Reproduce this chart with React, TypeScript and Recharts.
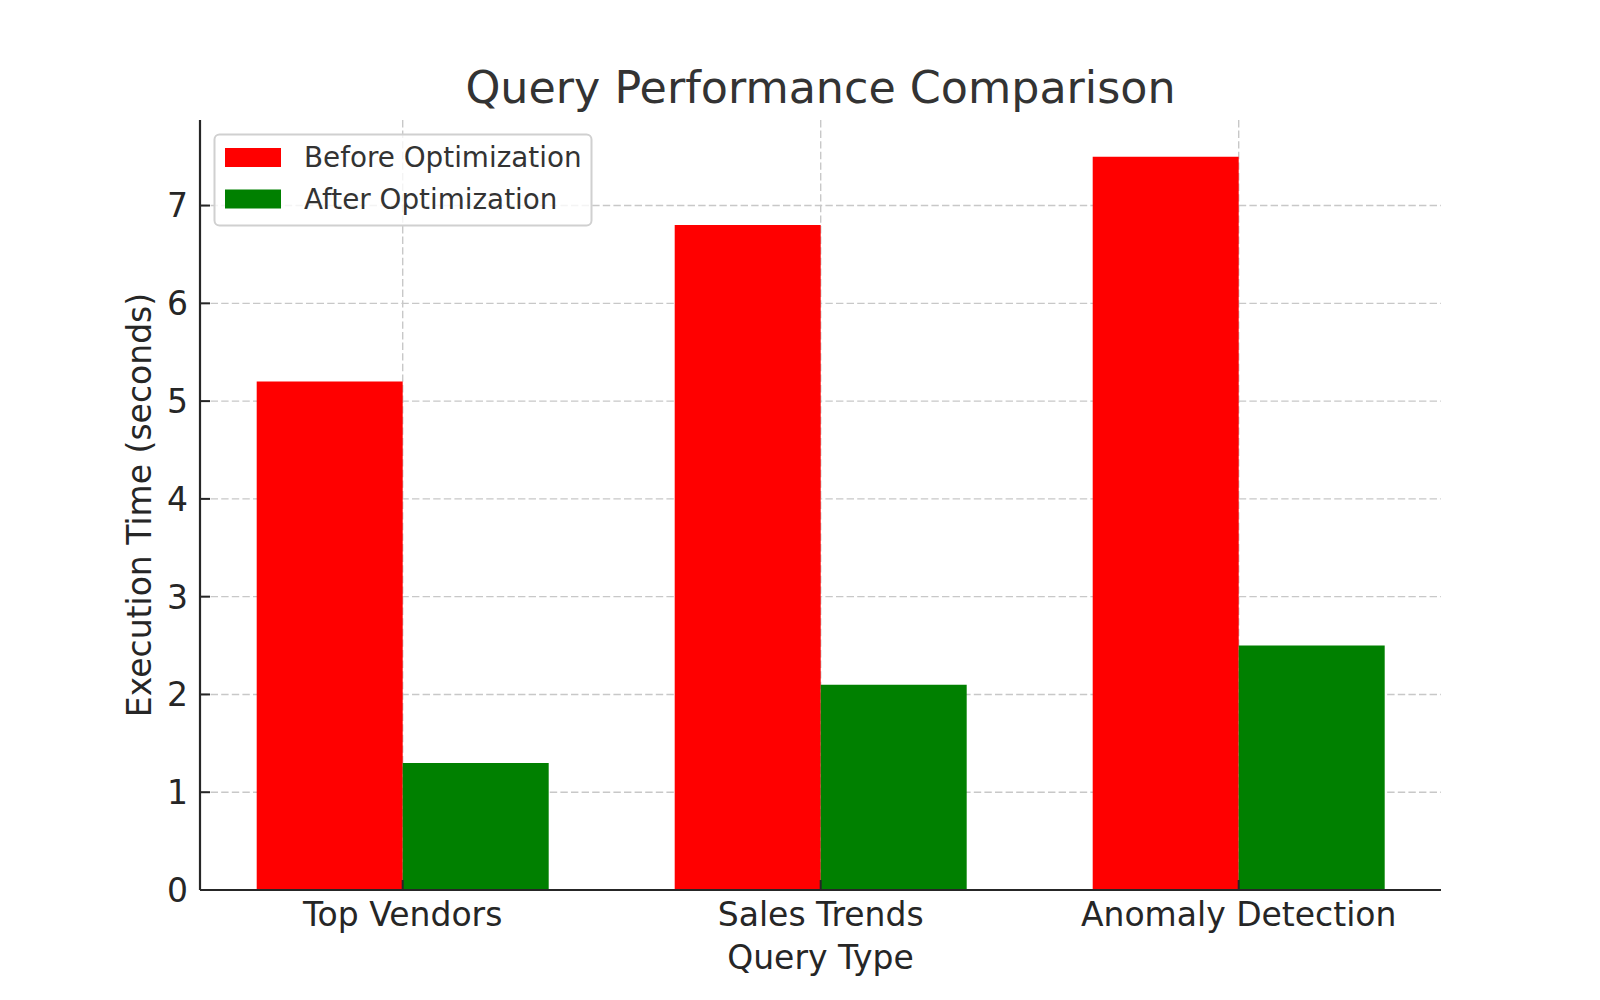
import { BarChart, Bar, XAxis, YAxis, CartesianGrid } from 'recharts';

const categories = ['Top Vendors', 'Sales Trends', 'Anomaly Detection'];
const beforeTimes = [5.2, 6.8, 7.5];
const afterTimes = [1.3, 2.1, 2.5];
const yTicks = [0, 1, 2, 3, 4, 5, 6, 7];

const series = [
  { key: 'before', name: 'Before Optimization', color: '#ff0000' },
  { key: 'after', name: 'After Optimization', color: '#008000' },
];

const data = categories.map((name, i) => ({
  name,
  before: beforeTimes[i],
  after: afterTimes[i],
}));

const FONT = '"DejaVu Sans", sans-serif';
const INK = '#262626';

// ticks point inward like the matplotlib original
function XTick({ x, y, payload }) {
  return (
    <g>
      <line x1={x} x2={x} y1={y} y2={y - 10} stroke={INK} strokeWidth={2} />
      <text x={x} y={y + 36} textAnchor="middle" fontSize={33} fontFamily={FONT} fill={INK}>
        {payload.value}
      </text>
    </g>
  );
}

function YTick({ x, y, payload }) {
  return (
    <g>
      <line x1={x} x2={x + 10} y1={y} y2={y} stroke={INK} strokeWidth={2} />
      <text x={x - 12} y={y} dy="0.36em" textAnchor="end" fontSize={33} fontFamily={FONT} fill={INK}>
        {payload.value}
      </text>
    </g>
  );
}

export default function App() {
  return (
    <div style={{ position: 'absolute', left: 0, top: 0, width: 1600, height: 1000, background: '#fff' }}>
      <BarChart
        width={1600}
        height={1000}
        data={data}
        margin={{ top: 120, right: 159, bottom: 50, left: 100 }}
        barGap={0}
        barSize={146}
      >
        {series.map((s) => (
          <Bar key={s.key} dataKey={s.key} name={s.name} fill={s.color} isAnimationActive={false} />
        ))}
        <CartesianGrid syncWithTicks stroke="#c8c8c8" strokeDasharray="7.4 3.2" strokeWidth={1.4} />
        <XAxis
          dataKey="name"
          height={60}
          padding={{ left: -6.3, right: -6.7 }}
          tickSize={0}
          tickMargin={0}
          tickLine={false}
          tick={XTick}
          interval={0}
          axisLine={{ stroke: INK, strokeWidth: 2.2 }}
          label={{
            content: ({ viewBox }) => (
              <text
                x={viewBox.x + viewBox.width / 2}
                y={969}
                textAnchor="middle"
                fontSize={33}
                fontFamily={FONT}
                fill={INK}
              >
                Query Type
              </text>
            ),
          }}
        />
        <YAxis
          type="number"
          width={100}
          domain={[0, 7.875]}
          ticks={yTicks}
          tickSize={0}
          tickMargin={0}
          tickLine={false}
          tick={YTick}
          interval={0}
          axisLine={{ stroke: INK, strokeWidth: 2.2 }}
          label={{
            content: ({ viewBox }) => {
              const cx = 151;
              const cy = viewBox.y + viewBox.height / 2;
              return (
                <text
                  x={cx}
                  y={cy}
                  textAnchor="middle"
                  fontSize={33}
                  fontFamily={FONT}
                  fill={INK}
                  transform={`rotate(-90, ${cx}, ${cy})`}
                >
                  Execution Time (seconds)
                </text>
              );
            },
          }}
        />
      </BarChart>
      <svg
        width={1600}
        height={1000}
        style={{ position: 'absolute', left: 0, top: 0, pointerEvents: 'none' }}
      >
        <text x={820.5} y={102.5} textAnchor="middle" fontSize={44.4} fontFamily={FONT} fill="#333">
          Query Performance Comparison
        </text>
        <rect x={214.5} y={134.5} width={377} height={91} rx={5} fill="#fff" fillOpacity={0.8} stroke="#d0d0d0" strokeWidth={2} />
        {series.map((s, i) => (
          <g key={s.key}>
            <rect x={225} y={148 + i * 41.5} width={56} height={19} fill={s.color} />
            <text x={304} y={167 + i * 41.5} fontSize={27.8} fontFamily={FONT} fill="#333">
              {s.name}
            </text>
          </g>
        ))}
      </svg>
    </div>
  );
}
